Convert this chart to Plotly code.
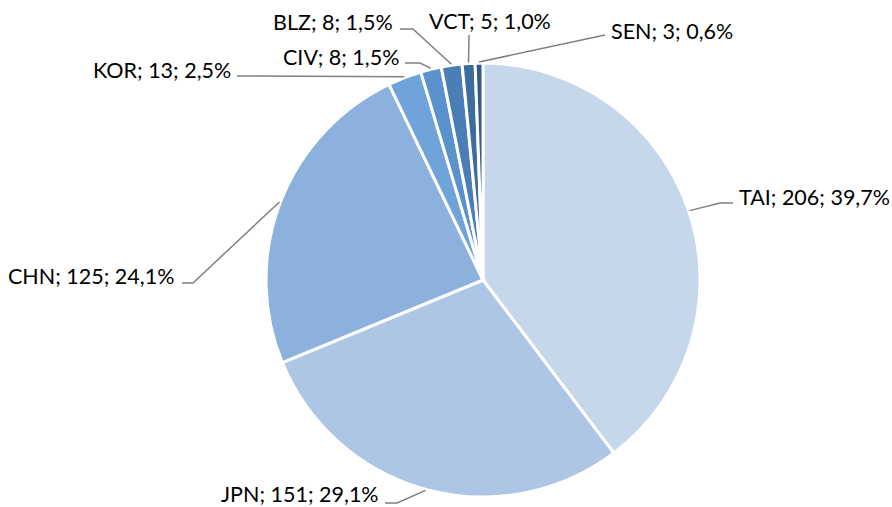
import math
import plotly.graph_objects as go

codes = ["TAI", "JPN", "CHN", "KOR", "CIV", "BLZ", "VCT", "SEN"]
values = [206, 151, 125, 13, 8, 8, 5, 3]
pct_labels = ["39,7%", "29,1%", "24,1%", "2,5%", "1,5%", "1,5%", "1,0%", "0,6%"]
colors = ["#C6D6EB", "#AEC6E6", "#8DB1DD", "#6FA3DA", "#5A92CE", "#4B7EB6", "#3E6C9D", "#2E5A8C"]

W, H = 892, 507
CX, CY, R = 483, 280, 217

# label layout (pixel positions): elbow point, end point, text anchor x, text y, xanchor
layout_pos = {
    "TAI": ((720, 203), (733, 203), 737, 197, "left"),
    "JPN": ((397, 503), (385, 503), 381, 494, "right"),
    "CHN": ((193, 283), (182, 283), 176, 276, "right"),
    "KOR": ((240, 76), (237, 76), 233, 70, "right"),
    "CIV": ((420, 63), (405, 63), 401, 57, "right"),
    "BLZ": ((413, 29), (400, 29), 395, 22, "right"),
    "VCT": ((469, 35), (469, 35), 490, 21, "center"),
    "SEN": ((605, 35), (605, 35), 609, 31, "left"),
}

def px(x, y):
    return x / W, 1 - y / H

fig = go.Figure(go.Pie(
    labels=codes, values=values, sort=False, direction="clockwise", rotation=0,
    marker=dict(colors=colors, line=dict(color="white", width=3)),
    textinfo="none", hoverinfo="label+value+percent", showlegend=False,
    domain=dict(x=[(CX - R) / W, (CX + R) / W], y=[(H - CY - R) / H, (H - CY + R) / H]),
))

total = sum(values)
cum = 0
shapes, annotations = [], []
for code, v, p in zip(codes, values, pct_labels):
    mid = (cum + v / 2) / total * 2 * math.pi
    cum += v
    sx = CX + (R + 1) * math.sin(mid)
    sy = CY - (R + 1) * math.cos(mid)
    (ex, ey), (fx, fy), tx, ty, anc = layout_pos[code]
    pts = [(sx, sy), (ex, ey), (fx, fy)]
    path = "M " + " L ".join(f"{px(a, b)[0]},{px(a, b)[1]}" for a, b in pts)
    shapes.append(dict(type="path", path=path, xref="paper", yref="paper",
                       line=dict(color="#808080", width=1.5)))
    ax, ay = px(tx, ty)
    annotations.append(dict(text=f"{code}; {v}; {p}", x=ax, y=ay, xref="paper", yref="paper",
                            xanchor=anc, yanchor="middle", showarrow=False,
                            font=dict(family="Lato", size=21.5, color="#000000")))

fig.update_layout(width=W, height=H, margin=dict(l=0, r=0, t=0, b=0),
                  paper_bgcolor="white", plot_bgcolor="white",
                  shapes=shapes, annotations=annotations)
fig.write_html("out.html", config={"displayModeBar": False},
               post_script="document.body.style.margin='0';document.body.style.overflow='hidden';")
